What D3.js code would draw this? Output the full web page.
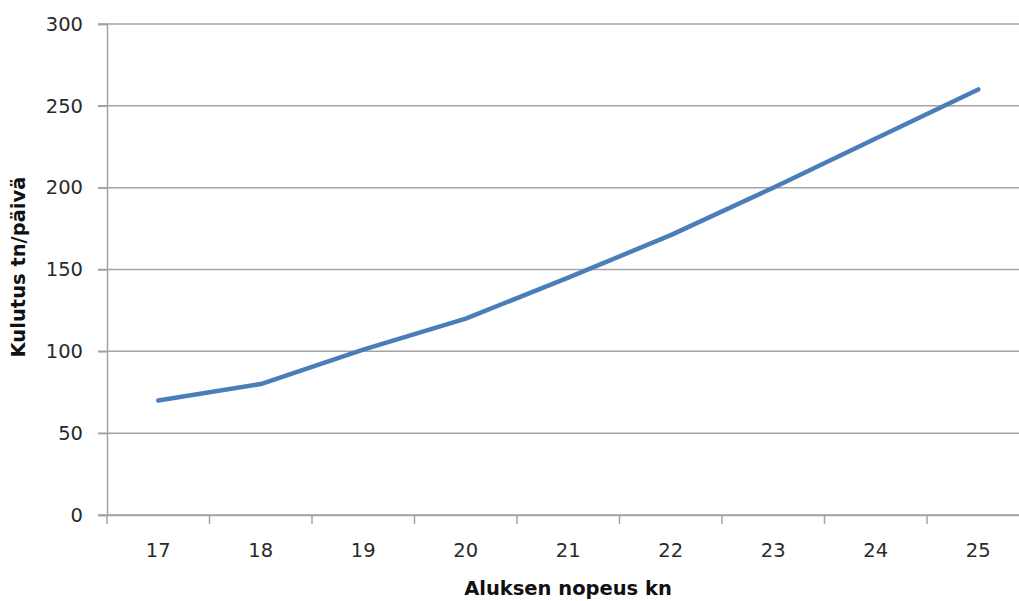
<!DOCTYPE html>
<html>
<head>
<meta charset="utf-8">
<script src="https://cdn.jsdelivr.net/npm/d3@7"></script>
<style>
  html, body { margin: 0; padding: 0; background: #fff; }
  svg { display: block; }
  .tick text { font-family: "DejaVu Sans", Verdana, sans-serif; font-size: 19.5px; fill: #2a2a2a; }
</style>
</head>
<body>
<svg id="chart" width="1019" height="601"></svg>
<script>
// Fuel consumption (t/day) by vessel speed (knots)
const speeds = ["17", "18", "19", "20", "21", "22", "23", "24", "25"];
const consumption = [70, 80, 101, 120, 145, 171, 200, 230, 260];
const yTicks = [0, 50, 100, 150, 200, 250, 300];

const svg = d3.select("#chart");
const plotLeft = 107, plotRight = 1029.5, plotTop = 24, plotBottom = 515;

const x = d3.scaleBand().domain(speeds).range([plotLeft, plotRight]);
const y = d3.scaleLinear().domain([0, 300]).range([plotBottom, plotTop]);

// horizontal gridlines
svg.append("g")
  .selectAll("line")
  .data(yTicks)
  .join("line")
  .attr("x1", plotLeft - 9)
  .attr("x2", 1019)
  .attr("y1", d => y(d))
  .attr("y2", d => y(d))
  .attr("stroke", "#a3a3a3")
  .attr("stroke-width", 1.5);

// y axis
const yAxis = svg.append("g")
  .attr("transform", `translate(${plotLeft},0)`)
  .call(d3.axisLeft(y).tickValues(yTicks).tickSize(9).tickPadding(15));
yAxis.select(".domain").attr("stroke", "#a3a3a3").attr("stroke-width", 1.5);
yAxis.selectAll(".tick line").attr("stroke", "#a3a3a3").attr("stroke-width", 1.5);

// x axis with ticks between categories
const xAxis = svg.append("g")
  .attr("transform", `translate(0,${plotBottom})`)
  .call(d3.axisBottom(x).tickSize(0));
xAxis.select(".domain").attr("stroke", "#a3a3a3").attr("stroke-width", 1.5);
xAxis.selectAll(".tick text").attr("y", 28).attr("dy", "0.71em");

const boundaries = speeds.map(s => x(s)).concat([plotRight]);
svg.append("g")
  .selectAll("line")
  .data(boundaries)
  .join("line")
  .attr("x1", d => d)
  .attr("x2", d => d)
  .attr("y1", plotBottom)
  .attr("y2", plotBottom + 9)
  .attr("stroke", "#a3a3a3")
  .attr("stroke-width", 1.5);

// consumption line
const line = d3.line()
  .x((d, i) => x(speeds[i]) + x.bandwidth() / 2)
  .y(d => y(d));

svg.append("path")
  .datum(consumption)
  .attr("d", line)
  .attr("fill", "none")
  .attr("stroke", "#4a7ebb")
  .attr("stroke-width", 4.5)
  .attr("stroke-linecap", "round")
  .attr("stroke-linejoin", "round");

// axis titles
svg.append("text")
  .attr("x", 568)
  .attr("y", 595)
  .attr("text-anchor", "middle")
  .attr("font-family", "DejaVu Sans, Verdana, sans-serif")
  .attr("font-size", 19.5)
  .attr("font-weight", "bold")
  .attr("fill", "#111")
  .text("Aluksen nopeus kn");

svg.append("text")
  .attr("transform", "translate(25,267) rotate(-90)")
  .attr("text-anchor", "middle")
  .attr("font-family", "DejaVu Sans, Verdana, sans-serif")
  .attr("font-size", 19.5)
  .attr("font-weight", "bold")
  .attr("fill", "#111")
  .text("Kulutus tn/päivä");
</script>
</body>
</html>
